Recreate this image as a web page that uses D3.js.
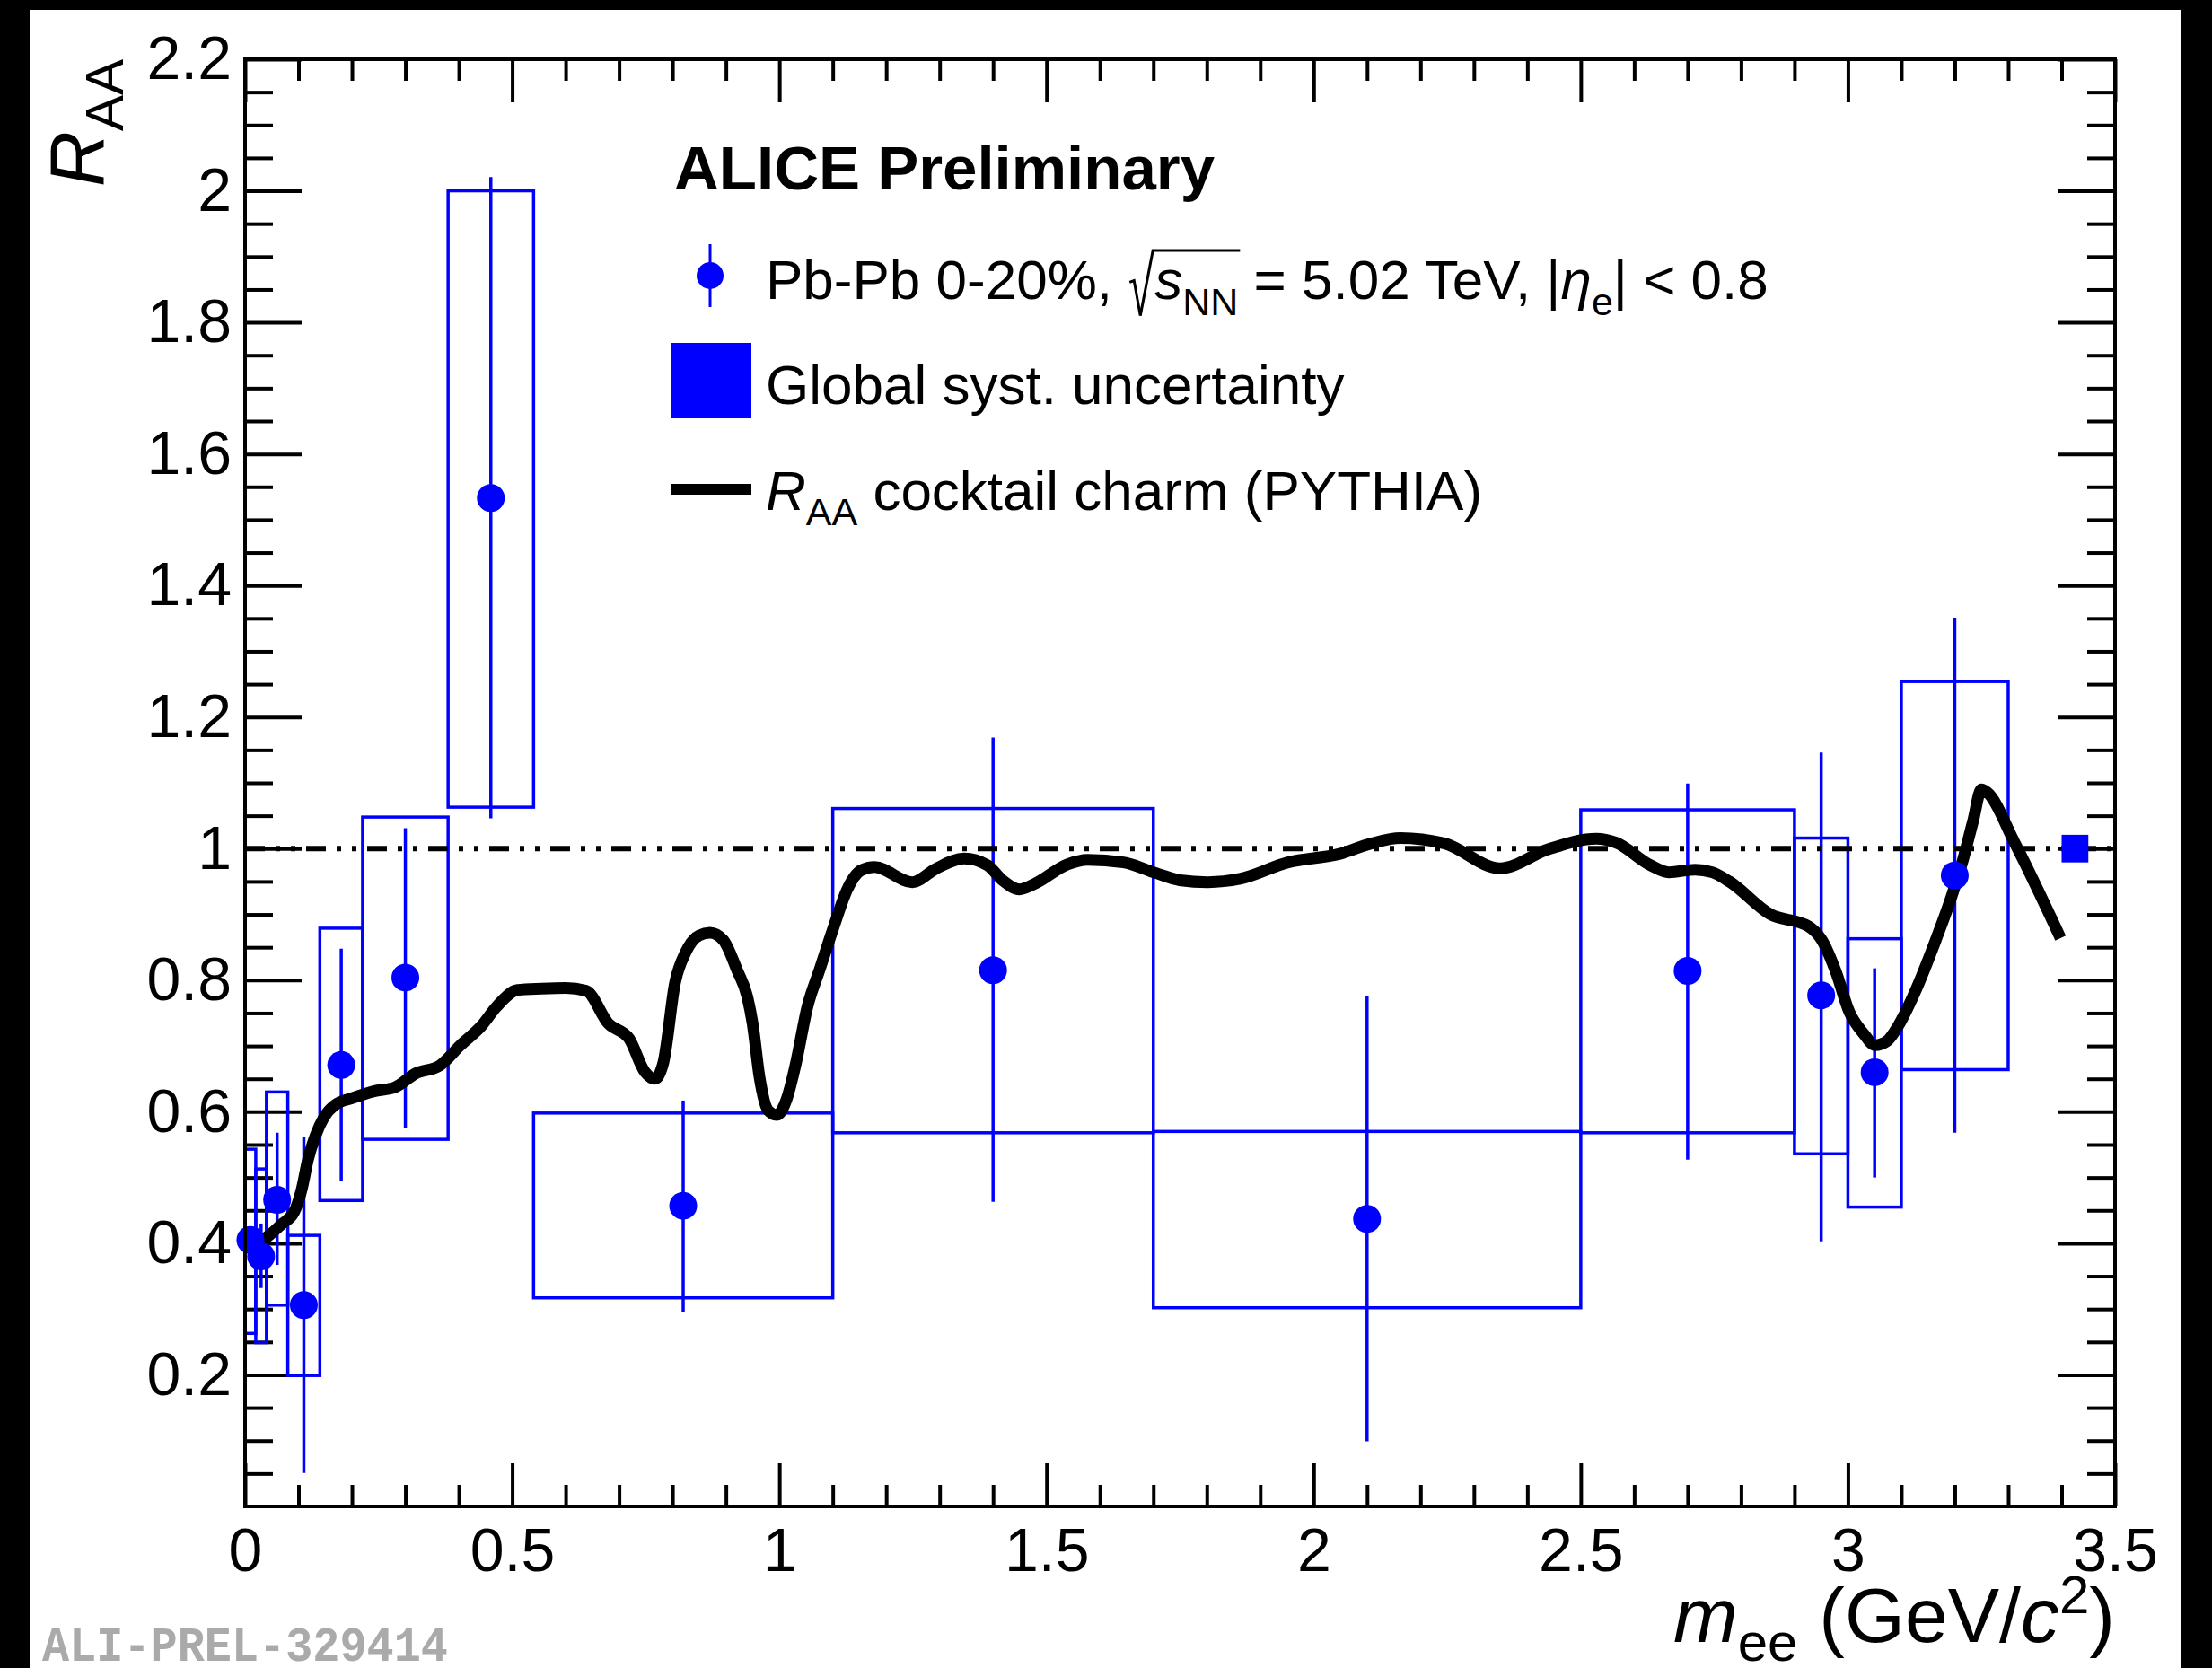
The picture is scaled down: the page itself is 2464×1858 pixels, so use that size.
<!DOCTYPE html>
<html>
<head>
<meta charset="utf-8">
<script src="https://cdn.jsdelivr.net/npm/d3@7"></script>
<style>
  html, body { margin: 0; padding: 0; background: #000; }
  svg { display: block; }
  text { white-space: pre; }
</style>
</head>
<body>
<div id="chart"></div>
<script>
// ---- data ----
const binLow  = [0, 0.02, 0.04, 0.08, 0.14, 0.22, 0.38, 0.54, 1.1, 1.7, 2.5, 2.9, 3.0, 3.1];
const binHigh = [0.02, 0.04, 0.08, 0.14, 0.22, 0.38, 0.54, 1.1, 1.7, 2.5, 2.9, 3.0, 3.1, 3.3];
const raa      = [0.405, 0.380, 0.466, 0.306, 0.671, 0.804, 1.533, 0.457, 0.815, 0.437, 0.814, 0.777, 0.660, 0.959];
const statLow  = [0.390, 0.332, 0.367, 0.051, 0.495, 0.576, 1.046, 0.296, 0.463, 0.099, 0.527, 0.403, 0.500, 0.568];
const statHigh = [0.420, 0.430, 0.568, 0.561, 0.848, 1.031, 2.021, 0.617, 1.169, 0.776, 1.099, 1.146, 0.818, 1.351];
const systLow  = [0.263, 0.249, 0.306, 0.199, 0.465, 0.558, 1.063, 0.317, 0.568, 0.302, 0.568, 0.536, 0.455, 0.664];
const systHigh = [0.543, 0.513, 0.630, 0.412, 0.879, 1.048, 2.000, 0.598, 1.061, 0.570, 1.059, 1.016, 0.863, 1.254];

// cocktail charm R_AA (PYTHIA) curve
const cocktailMass = [0.010, 0.022, 0.045, 0.067, 0.092, 0.106, 0.118, 0.132, 0.148, 0.168, 0.202, 0.241, 0.280,
  0.319, 0.364, 0.403, 0.443, 0.471, 0.510, 0.555, 0.600, 0.638, 0.680, 0.719, 0.748, 0.767, 0.783, 0.805,
  0.825, 0.850, 0.870, 0.895, 0.921, 0.940, 0.950, 0.963, 0.979, 0.995, 1.014, 1.030, 1.053, 1.075, 1.101,
  1.127, 1.153, 1.178, 1.249, 1.294, 1.346, 1.389, 1.419, 1.449, 1.479, 1.539, 1.577, 1.644, 1.704, 1.749,
  1.802, 1.862, 1.952, 2.049, 2.109, 2.162, 2.244, 2.349, 2.439, 2.529, 2.566, 2.630, 2.665, 2.714, 2.746,
  2.778, 2.855, 2.926, 2.952, 2.977, 3.003, 3.029, 3.051, 3.074, 3.093, 3.125, 3.164, 3.196, 3.215, 3.234,
  3.250, 3.260, 3.312, 3.398];
const cocktailRaa = [0.398, 0.400, 0.412, 0.428, 0.448, 0.482, 0.528, 0.564, 0.592, 0.610, 0.621, 0.631, 0.637,
  0.658, 0.670, 0.701, 0.731, 0.760, 0.785, 0.787, 0.788, 0.784, 0.734, 0.711, 0.661, 0.650, 0.675, 0.797,
  0.843, 0.868, 0.872, 0.861, 0.815, 0.775, 0.734, 0.652, 0.602, 0.595, 0.620, 0.670, 0.761, 0.815, 0.879,
  0.938, 0.967, 0.972, 0.949, 0.970, 0.985, 0.975, 0.951, 0.938, 0.947, 0.976, 0.983, 0.979, 0.963, 0.952,
  0.949, 0.954, 0.979, 0.992, 1.008, 1.016, 1.008, 0.970, 0.999, 1.015, 1.009, 0.975, 0.964, 0.968, 0.964,
  0.950, 0.900, 0.882, 0.860, 0.814, 0.751, 0.719, 0.701, 0.708, 0.729, 0.781, 0.860, 0.932, 0.982, 1.041,
  1.090, 1.086, 1.009, 0.864];

const globalSystMass = [3.4, 3.45];
const globalSystHalf = 0.021;

const xTicks = [0, 0.5, 1, 1.5, 2, 2.5, 3, 3.5];
const yTicks = [0.2, 0.4, 0.6, 0.8, 1, 1.2, 1.4, 1.6, 1.8, 2, 2.2];

// ---- layout ----
const svgWidth = 2464;
const svgHeight = 1858;
const margin = {top: 66, right: 108, bottom: 180, left: 273};
const width = svgWidth - margin.left - margin.right;
const height = svgHeight - margin.top - margin.bottom;
const blue = "#0000ff";
const fontFamily = '"Liberation Sans", Arial, Helvetica, sans-serif';

const svg = d3.select("#chart")
  .append("svg")
  .attr("width", svgWidth)
  .attr("height", svgHeight)
  .attr("font-family", fontFamily);

svg.append("rect")
  .attr("width", svgWidth).attr("height", svgHeight)
  .attr("fill", "#000");
svg.append("rect")
  .attr("x", 33).attr("y", 11)
  .attr("width", 2396).attr("height", svgHeight - 11)
  .attr("fill", "#fff");

const chartGroup = svg.append("g")
  .attr("transform", `translate(${margin.left}, ${margin.top})`);

const xScale = d3.scaleLinear().domain([0, 3.5]).range([0, width]);
const yScale = d3.scaleLinear().domain([0, 2.2]).range([height, 0]);

const xMinor = d3.range(1, 35).map(i => i / 10).filter(v => Math.abs(v * 2 - Math.round(v * 2)) > 1e-6);
const yMinor = d3.range(1, 44).map(i => i / 20).filter(v => Math.abs(v * 5 - Math.round(v * 5)) > 1e-6);
const fmt = d3.format("~g");

function styleAxis(g) {
  g.select(".domain").remove();
  g.attr("font-family", fontFamily).attr("font-size", 68);
  g.selectAll("line").attr("stroke", "#000").attr("stroke-width", 4);
  g.selectAll("text").attr("fill", "#000");
}

// axes with inward ticks on all four sides
chartGroup.append("g").attr("transform", `translate(0, ${height})`)
  .call(d3.axisBottom(xScale).tickValues(xTicks).tickSize(-48).tickPadding(24).tickFormat(fmt)).call(styleAxis);
chartGroup.append("g").attr("transform", `translate(0, ${height})`)
  .call(d3.axisBottom(xScale).tickValues(xMinor).tickSize(-24).tickFormat("")).call(styleAxis);
chartGroup.append("g")
  .call(d3.axisTop(xScale).tickValues(xTicks).tickSize(-48).tickFormat("")).call(styleAxis);
chartGroup.append("g")
  .call(d3.axisTop(xScale).tickValues(xMinor).tickSize(-24).tickFormat("")).call(styleAxis);
chartGroup.append("g")
  .call(d3.axisLeft(yScale).tickValues(yTicks).tickSize(-63).tickPadding(15).tickFormat(fmt)).call(styleAxis);
chartGroup.append("g")
  .call(d3.axisLeft(yScale).tickValues(yMinor).tickSize(-31).tickFormat("")).call(styleAxis);
chartGroup.append("g").attr("transform", `translate(${width}, 0)`)
  .call(d3.axisRight(yScale).tickValues(yTicks).tickSize(-63).tickFormat("")).call(styleAxis);
chartGroup.append("g").attr("transform", `translate(${width}, 0)`)
  .call(d3.axisRight(yScale).tickValues(yMinor).tickSize(-31).tickFormat("")).call(styleAxis);

// points table built from the arrays
const points = raa.map((v, i) => ({
  lo: binLow[i], hi: binHigh[i], mid: (binLow[i] + binHigh[i]) / 2,
  v: v, sl: statLow[i], sh: statHigh[i], yl: systLow[i], yh: systHigh[i]
}));

// systematic boxes
chartGroup.selectAll("rect.syst")
  .data(points)
  .enter()
  .append("rect")
  .attr("class", "syst")
  .attr("x", d => xScale(d.lo))
  .attr("y", d => yScale(d.yh))
  .attr("width", d => xScale(d.hi) - xScale(d.lo))
  .attr("height", d => yScale(d.yl) - yScale(d.yh))
  .attr("fill", "none")
  .attr("stroke", blue)
  .attr("stroke-width", 3.5);

// statistical error bars
chartGroup.selectAll("line.stat")
  .data(points)
  .enter()
  .append("line")
  .attr("class", "stat")
  .attr("x1", d => xScale(d.mid)).attr("x2", d => xScale(d.mid))
  .attr("y1", d => yScale(d.sh)).attr("y2", d => yScale(d.sl))
  .attr("stroke", blue)
  .attr("stroke-width", 3.5);

// cocktail curve
const cocktail = d3.zip(cocktailMass, cocktailRaa);
chartGroup.append("path")
  .datum(cocktail)
  .attr("d", d3.line().x(d => xScale(d[0])).y(d => yScale(d[1])).curve(d3.curveMonotoneX))
  .attr("fill", "none")
  .attr("stroke", "#000")
  .attr("stroke-width", 13)
  .attr("stroke-linejoin", "round");

// unity line
chartGroup.append("line")
  .attr("x1", xScale(0)).attr("x2", xScale(3.5))
  .attr("y1", yScale(1)).attr("y2", yScale(1))
  .attr("stroke", "#000")
  .attr("stroke-width", 6)
  .attr("stroke-dasharray", "22,12,5,12,5,12");

// markers
chartGroup.selectAll("circle.pt")
  .data(points)
  .enter()
  .append("circle")
  .attr("class", "pt")
  .attr("cx", d => xScale(d.mid))
  .attr("cy", d => yScale(d.v))
  .attr("r", 15.5)
  .attr("fill", blue);

// global syst. uncertainty box at unity
chartGroup.append("rect")
  .attr("x", xScale(globalSystMass[0]))
  .attr("y", yScale(1 + globalSystHalf))
  .attr("width", xScale(globalSystMass[1]) - xScale(globalSystMass[0]))
  .attr("height", yScale(1 - globalSystHalf) - yScale(1 + globalSystHalf))
  .attr("fill", blue);

// frame
chartGroup.append("rect")
  .attr("width", width).attr("height", height)
  .attr("fill", "none")
  .attr("stroke", "#000")
  .attr("stroke-width", 4);

// text made of pieces (italic, sub/superscripts)
function richText(parent, x, y, parts, anchor) {
  const g = parent.append("g");
  let cx = 0;
  const placed = parts.map(p => {
    const t = g.append("text")
      .attr("x", cx)
      .attr("y", p.shift || 0)
      .attr("font-size", p.size)
      .attr("font-style", p.italic ? "italic" : "normal")
      .attr("font-weight", p.bold ? "bold" : "normal")
      .attr("fill", "#000")
      .text(p.text);
    const w = p.text ? t.node().getComputedTextLength() : 0;
    const item = {x: cx, w: w};
    cx += w + (p.gap || 0);
    return item;
  });
  const x0 = anchor === "end" ? x - cx : x;
  g.attr("transform", `translate(${x0}, ${y})`);
  return {g: g, placed: placed, total: cx};
}

// axis titles
const titleSize = 86;
const subSize = 60;
richText(svg, 2356, 1829, [
  {text: "m", size: titleSize, italic: true},
  {text: "ee", size: subSize, shift: 21},
  {text: " (GeV/", size: titleSize},
  {text: "c", size: titleSize, italic: true},
  {text: "2", size: subSize, shift: -32},
  {text: ")", size: titleSize}
], "end");

const yTitle = svg.append("g").attr("transform", "translate(115, 66) rotate(-90)");
richText(yTitle, 0, 0, [
  {text: "R", size: titleSize, italic: true},
  {text: "AA", size: subSize, shift: 22}
], "end");

// legend
const legX = 853;
const legSize = 62;
const legSub = 43;

svg.append("text")
  .attr("x", 751).attr("y", 211)
  .attr("font-size", 69)
  .attr("font-weight", "bold")
  .text("ALICE Preliminary");

svg.append("line")
  .attr("x1", 791).attr("x2", 791).attr("y1", 272).attr("y2", 342)
  .attr("stroke", blue).attr("stroke-width", 3);
svg.append("circle")
  .attr("cx", 791).attr("cy", 307).attr("r", 15)
  .attr("fill", blue);

const entry1 = richText(svg, legX, 333, [
  {text: "Pb-Pb 0-20%, ", size: legSize},
  {text: "", size: legSize, gap: 30},
  {text: "s", size: legSize, italic: true},
  {text: "NN", size: legSub, shift: 18},
  {text: " = 5.02 TeV, |", size: legSize},
  {text: "η", size: legSize, italic: true},
  {text: "e", size: legSub, shift: 18},
  {text: "| < 0.8", size: legSize}
]);
// square-root sign with overline over s_NN
const rx = entry1.placed[1].x + 2;
const rEnd = entry1.placed[3].x + entry1.placed[3].w + 2;
entry1.g.append("path")
  .attr("d", `M${rx},${-0.30 * legSize} L${rx + 5},${-0.33 * legSize} L${rx + 12},${0.3 * legSize}` +
    ` L${rx + 26},${-0.87 * legSize} L${rEnd},${-0.87 * legSize}`)
  .attr("fill", "none")
  .attr("stroke", "#000")
  .attr("stroke-width", 3);

svg.append("rect")
  .attr("x", 748).attr("y", 382)
  .attr("width", 89).attr("height", 84)
  .attr("fill", blue);
richText(svg, legX, 450, [{text: "Global syst. uncertainty", size: legSize}]);

svg.append("line")
  .attr("x1", 748).attr("x2", 837).attr("y1", 545).attr("y2", 545)
  .attr("stroke", "#000").attr("stroke-width", 12);
richText(svg, legX, 568, [
  {text: "R", size: legSize, italic: true},
  {text: "AA", size: legSub, shift: 17},
  {text: " cocktail charm (PYTHIA)", size: legSize}
]);

// preliminary id tag
svg.append("text")
  .attr("x", 47).attr("y", 1850)
  .style("font-family", '"Liberation Mono", "Courier New", "DejaVu Sans Mono", monospace')
  .attr("font-weight", "bold")
  .attr("font-size", 54)
  .attr("textLength", 452)
  .attr("lengthAdjust", "spacingAndGlyphs")
  .attr("fill", "#aaaaaa")
  .text("ALI-PREL-329414");
</script>
</body>
</html>
